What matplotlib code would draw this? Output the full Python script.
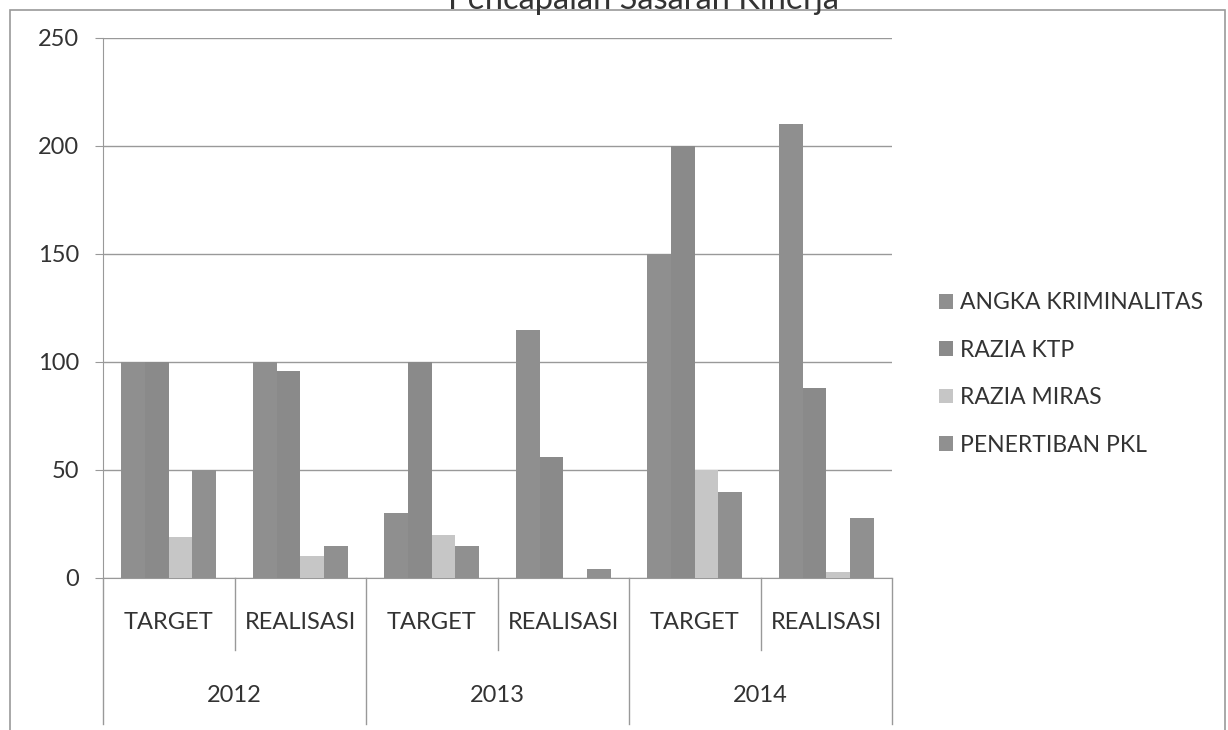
import numpy as np
import matplotlib
matplotlib.use('Agg')
import matplotlib.pyplot as plt
from matplotlib.patches import Rectangle

plt.rcParams['font.family'] = ['Lato', 'DejaVu Sans']

# data
years = ['2012', '2013', '2014']
kinds = ['TARGET', 'REALISASI']
series = ['ANGKA KRIMINALITAS', 'RAZIA KTP', 'RAZIA MIRAS', 'PENERTIBAN PKL']
angka = [100, 100, 30, 115, 150, 210]
ktp = [100, 96, 100, 56, 200, 88]
miras = [19, 10, 20, 0, 50, 3]
pkl = [50, 15, 15, 4, 40, 28]
colors = ['#8f8f8f', '#8a8a8a', '#c6c6c6', '#909090']

fig = plt.figure(figsize=(12.28, 7.30), dpi=100)
ax = fig.add_axes([103/1228, 1-578/730, 789/1228, 540/730])

x = np.arange(6)
w = 0.18
vals = [angka, ktp, miras, pkl]
for i, (v, c, s) in enumerate(zip(vals, colors, series)):
    ax.bar(x + (i - 1.5) * w, v, w, color=c, label=s, zorder=3)

ax.set_xlim(-0.5, 5.5)
ax.set_ylim(0, 250)
ax.set_yticks([0, 50, 100, 150, 200, 250])
ax.grid(axis='y', color='#999999', lw=1, zorder=0)
for sp in ['top', 'right']:
    ax.spines[sp].set_visible(False)
ax.spines['left'].set_color('#999999')
ax.spines['bottom'].set_color('#999999')
ax.tick_params(axis='y', length=6, color='#999999', labelsize=17, pad=11, labelcolor='#333333')
ax.set_xticks([])

# two level category axis
tr = ax.get_xaxis_transform()
for i in range(6):
    ax.text(x[i], -0.082, kinds[i % 2], transform=tr, ha='center', va='center',
            fontsize=17, color='#333333')
for j, yr in enumerate(years):
    ax.text(2*j + 0.5, -0.217, yr, transform=tr, ha='center', va='center',
            fontsize=17, color='#333333')
for b in [-0.5, 1.5, 3.5, 5.5]:
    ax.plot([b, b], [0, -0.27], transform=tr, color='#999999', lw=1, clip_on=False)
for b in [0.5, 2.5, 4.5]:
    ax.plot([b, b], [0, -0.133], transform=tr, color='#999999', lw=1, clip_on=False)

leg = ax.legend(loc='center left', bbox_to_anchor=(930/1228, 1-374/730),
                bbox_transform=fig.transFigure, frameon=False, fontsize=16.5,
                handlelength=0.6, handleheight=0.6, handletextpad=0.3,
                labelspacing=1.15, borderaxespad=0)
for t in leg.get_texts():
    t.set_color('#333333')

# outer chart frame and title (cut at top of the scan)
fig.patches.append(Rectangle((10/1228, -0.1), 1215/1228, 1.1 - 10/730,
                             transform=fig.transFigure, fill=False,
                             edgecolor='#999999', lw=1.2))
fig.text(0.524, 1 - 9/730, 'Pencapaian Sasaran Kinerja', ha='center', va='baseline',
         fontsize=23.5, color='#333333')

fig.savefig('out.png', dpi=100)
